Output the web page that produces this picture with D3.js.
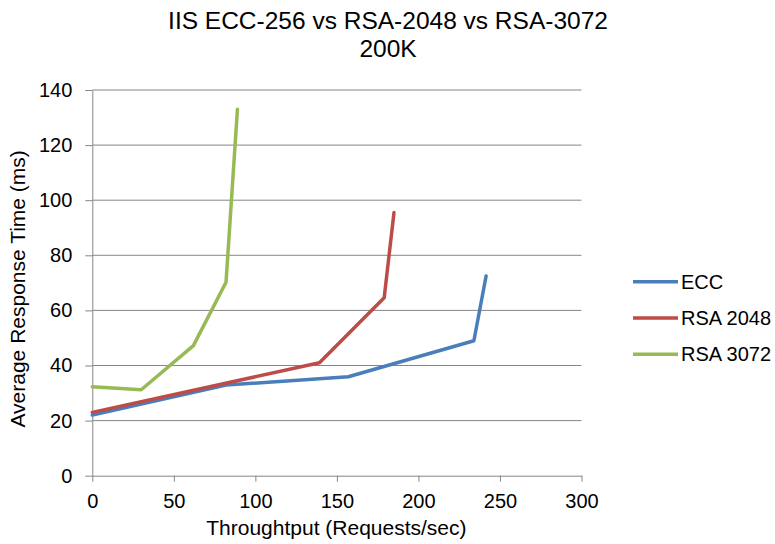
<!DOCTYPE html>
<html><head><meta charset="utf-8">
<script src="https://cdn.jsdelivr.net/npm/d3@7"></script>
<style>body{margin:0;background:#fff}svg{display:block}text{font-family:"Liberation Sans",Arial,sans-serif;fill:#000}</style>
</head><body><svg id="c" width="775" height="544"></svg>
<script>
const titleLines = ["IIS ECC-256 vs RSA-2048 vs RSA-3072", "200K"];
const xLabel = "Throughtput (Requests/sec)";
const yLabel = "Average Response Time (ms)";
const seriesNames = ["ECC", "RSA 2048", "RSA 3072"];
const seriesColors = ["#4A7EBB", "#BE4B48", "#98B954"];
const eccX = [0, 82, 157, 234, 241.5];
const eccY = [22.0, 32.9, 35.9, 49.0, 72.5];
const rsa2048X = [0, 139.3, 179, 185];
const rsa2048Y = [23.0, 41.0, 64.6, 95.5];
const rsa3072X = [0, 30, 62, 82, 89];
const rsa3072Y = [32.3, 31.2, 47.2, 70.2, 133];
const xTicks = [0, 50, 100, 150, 200, 250, 300];
const yTicks = [0, 20, 40, 60, 80, 100, 120, 140];

const svg = d3.select("#c");
const L = 92.3, R = 581.5, T = 90, B = 475.7;
const x = d3.scaleLinear().domain([0, 300]).range([L, R]);
const y = d3.scaleLinear().domain([0, 140]).range([B, T]);

// gridlines
svg.append("g").selectAll("line").data(yTicks.slice(1)).join("line")
  .attr("x1", L).attr("x2", R).attr("y1", d => y(d)).attr("y2", d => y(d))
  .attr("stroke", "#868686").attr("stroke-width", 1);

// axes
const xa = svg.append("g").attr("transform", `translate(0,${B})`)
  .call(d3.axisBottom(x).tickValues(xTicks).tickSize(6).tickSizeOuter(0).tickPadding(12));
const ya = svg.append("g").attr("transform", `translate(${L},0)`)
  .call(d3.axisLeft(y).tickValues(yTicks).tickSize(7).tickSizeOuter(0).tickPadding(13));
[xa, ya].forEach(a => {
  a.select(".domain").attr("stroke", "#868686");
  a.selectAll(".tick line").attr("stroke", "#868686");
  a.selectAll(".tick text").style("font-size", "20px").style("font-family", '"Liberation Sans",Arial,sans-serif').attr("fill", "#000");
});

// series
const series = [[eccX, eccY], [rsa2048X, rsa2048Y], [rsa3072X, rsa3072Y]];
const line = d3.line().x(d => x(d[0])).y(d => y(d[1]));
series.forEach((s, i) => {
  const pts = s[0].map((v, j) => [v, s[1][j]]);
  svg.append("path").datum(pts).attr("d", line).attr("fill", "none")
    .attr("stroke", seriesColors[i]).attr("stroke-width", 3.5)
    .attr("stroke-linejoin", "round").attr("stroke-linecap", "round");
});

// title
svg.append("text").attr("x", 388).attr("y", 28.5).attr("text-anchor", "middle")
  .style("font-size", "24.5px").text(titleLines[0]);
svg.append("text").attr("x", 388).attr("y", 57).attr("text-anchor", "middle")
  .style("font-size", "24.5px").text(titleLines[1]);

// axis labels
svg.append("text").attr("x", (L + R) / 2 - 0.5).attr("y", 535).attr("text-anchor", "middle")
  .style("font-size", "21px").text(xLabel);
svg.append("text").attr("transform", `translate(25,${(T + B) / 2 + 6}) rotate(-90)`)
  .attr("text-anchor", "middle").style("font-size", "21px").text(yLabel);

// legend
const lg = svg.append("g");
seriesNames.forEach((n, i) => {
  const ly = 281.7 + i * 36.3;
  lg.append("line").attr("x1", 633).attr("x2", 678).attr("y1", ly).attr("y2", ly)
    .attr("stroke", seriesColors[i]).attr("stroke-width", 3.5);
  lg.append("text").attr("x", 681).attr("y", ly + 6.8).style("font-size", "20px").text(n);
});
</script></body></html>
